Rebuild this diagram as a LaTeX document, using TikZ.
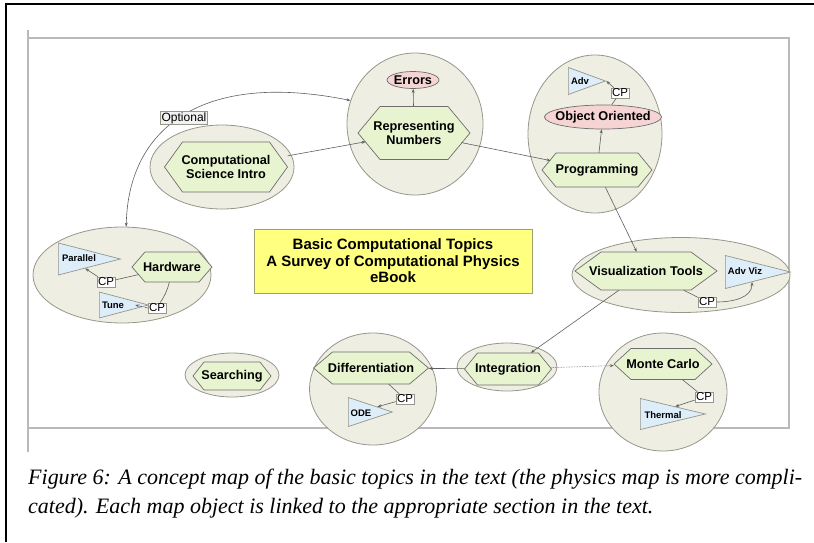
\documentclass[tikz,border=0pt]{standalone}
\usepackage{fontspec}
\setsansfont{Liberation Sans}
\newfontfamily\capfont{Liberation Serif}
\usetikzlibrary{shapes.geometric,arrows.meta,calc}
\definecolor{grpfill}{RGB}{238,238,226}
\definecolor{grpdraw}{RGB}{150,150,138}
\definecolor{hexfill}{RGB}{232,244,208}
\definecolor{hexdraw}{RGB}{110,110,110}
\definecolor{pinkfill}{RGB}{246,212,212}
\definecolor{trifill}{RGB}{221,237,250}
\definecolor{titlefill}{RGB}{255,255,128}
\definecolor{titledraw}{RGB}{160,160,110}
\definecolor{framegray}{RGB}{185,185,185}
\definecolor{linkcol}{RGB}{95,95,95}
\definecolor{optfill}{RGB}{242,242,242}
\tikzset{
  grp/.style={ellipse, draw=grpdraw, fill=grpfill, line width=0.8pt, inner sep=0pt},
  hexbody/.style={draw=hexdraw, fill=hexfill, line width=0.7pt, line join=miter},
  hexlab/.style={rectangle, inner sep=0pt, align=center, font=\sffamily\bfseries\fontsize{12.7}{14}\selectfont},
  pinkel/.style={ellipse, draw=hexdraw, fill=pinkfill, line width=0.7pt, inner sep=0pt},
  lab/.style={font=\sffamily\bfseries\fontsize{12.7}{14}\selectfont, inner sep=0pt},
  tri/.style={isosceles triangle, isosceles triangle stretches, draw=grpdraw, fill=trifill, line width=0.7pt, inner sep=0pt, anchor=lower side},
  trilab/.style={font=\sffamily\bfseries\fontsize{9.5}{10}\selectfont, inner sep=0pt},
  cpbox/.style={rectangle, draw=grpdraw, fill=white, line width=0.6pt, inner sep=1pt, font=\sffamily\fontsize{11.5}{12}\selectfont},
  optbox/.style={rectangle, draw=grpdraw, fill=optfill, line width=0.5pt, inner sep=1pt, font=\sffamily\fontsize{12}{12}\selectfont},
  conn/.style={draw=linkcol, line width=0.6pt, -{Stealth[length=4pt,width=3pt]}},
  plain/.style={draw=linkcol, line width=0.6pt},
}
% #1 name, #2 x, #3 y, #4 width, #5 height, #6 inset, #7 text
\newcommand\hexnode[7]{%
  \draw[hexbody] ({#2-#4/2},#3) -- ({#2-#4/2+#6},{#3-#5/2}) -- ({#2+#4/2-#6},{#3-#5/2})
    -- ({#2+#4/2},#3) -- ({#2+#4/2-#6},{#3+#5/2}) -- ({#2-#4/2+#6},{#3+#5/2}) -- cycle;
  \node[hexlab, minimum width=#4pt, minimum height=#5pt] (#1) at (#2,#3) {#7};
}
\newsavebox\capboxA
\newsavebox\capboxB
\begin{document}
\sbox\capboxA{\capfont\itshape\fontsize{20}{24}\selectfont Figure 6: A concept map of the basic topics in the text (the physics map is more compli-}%
\sbox\capboxB{\capfont\itshape\fontsize{20}{24}\selectfont cated). Each map object is linked to the appropriate section in the text.}%
\pgfmathsetmacro\capscale{774/\the\wd\capboxA}%
\begin{tikzpicture}[x=1pt,y=-1pt]
\useasboundingbox (0,0) rectangle (814,542);
% frames
\draw[line width=1.8pt] (6,542) -- (6,4) -- (814,4);
\draw[framegray, line width=1.5pt] (28,30) -- (28,452);
\draw[framegray, line width=1.5pt] (28,38) -- (789,38) -- (789,428) -- (28,428);

% group ellipses
\node[grp, minimum width=136pt, minimum height=142pt] (rnG) at (415,124) {};
\node[grp, minimum width=144pt, minimum height=84pt] (csiG) at (222,167) {};
\node[grp, minimum width=134pt, minimum height=158pt] (prG) at (595,134) {};
\node[grp, minimum width=178pt, minimum height=96pt] (hwG) at (122,275) {};
\node[grp, minimum width=218pt, minimum height=75pt] (visG) at (681,275) {};
\node[grp, minimum width=94pt, minimum height=44pt] (srG) at (232,375) {};
\node[grp, minimum width=127pt, minimum height=112pt] (dfG) at (373,389) {};
\node[grp, minimum width=100pt, minimum height=48pt] (inG) at (507,367) {};
\node[grp, minimum width=128pt, minimum height=118pt] (mcG) at (663,392) {};

% title
\node[draw=titledraw, fill=titlefill, line width=0.7pt, minimum width=278pt, minimum height=64pt, align=center,
  font=\sffamily\bfseries\fontsize{15}{16.5}\selectfont] (title) at (393,261)
  {Basic Computational Topics\\A Survey of Computational Physics\\eBook};

% hexagons
\hexnode{rn}{414}{133}{112}{53}{22}{Representing\\Numbers}
\hexnode{csi}{226}{167}{123}{50}{18}{Computational\\Science Intro}
\hexnode{pr}{597}{170}{110}{34}{14}{Programming}
\hexnode{hw}{172}{267}{80}{30}{13}{Hardware}
\hexnode{vis}{646}{271}{142}{38}{26}{Visualization Tools}
\hexnode{sr}{232}{376}{78}{28}{11}{Searching}
\hexnode{df}{371}{368}{115}{32}{19}{Differentiation}
\hexnode{in}{508}{369}{87}{32}{13}{Integration}
\hexnode{mc}{663}{364}{98}{31}{17}{Monte Carlo}

% pink ellipses
\node[pinkel, minimum width=52pt, minimum height=17pt, label={[lab]center:Errors}] (err) at (413,80) {};
\node[pinkel, minimum width=117pt, minimum height=24pt, label={[lab]center:Object Oriented}] (oo) at (603,117) {};

% triangles (minimum width = base, minimum height = length)
\node[tri, minimum width=27pt, minimum height=37pt] (advT) at (568,81) {};
\node[tri, minimum width=32pt, minimum height=62pt] (parT) at (58,259) {};
\node[tri, minimum width=26pt, minimum height=49pt] (tuneT) at (99,305) {};
\node[tri, minimum width=33pt, minimum height=65pt] (avzT) at (725,272) {};
\node[tri, minimum width=29pt, minimum height=44pt] (odeT) at (348,412) {};
\node[tri, minimum width=31pt, minimum height=65pt] (thT) at (640,414) {};
\node[trilab] (advL) at (580,81) {Adv};
\node[trilab] (parL) at (79,258) {Parallel};
\node[trilab] (tuneL) at (113,305) {Tune};
\node[trilab] (avzL) at (745,271) {Adv Viz};
\node[trilab] (odeL) at (361,413) {ODE};
\node[trilab] (thL) at (663,415) {Thermal};

% CP boxes
\node[cpbox] (cpA) at (620,93) {CP};
\node[cpbox] (cpP) at (106,282) {CP};
\node[cpbox] (cpT) at (157,308) {CP};
\node[cpbox] (cpV) at (707,302) {CP};
\node[cpbox] (cpD) at (405,399) {CP};
\node[cpbox] (cpM) at (704,397) {CP};

% connectors
\draw[conn, shorten >=-8pt] (csi) -- (rn);
\draw[conn] (rn) -- (err);
\draw[conn, shorten <=-9pt, shorten >=-9pt] (rn) -- (pr);
\draw[conn] (pr) -- (oo);
\draw[plain] (oo) -- (cpA);
\draw[conn] (cpA) -- (advT.apex);
\draw[conn] (pr) -- (vis);
\draw[conn] (vis) -- (in);
\draw[conn] (in) -- (df);
\draw[conn, densely dotted] (in) -- (mc);
\draw[plain] (vis) -- (cpV);
\draw[conn] (cpV.east) to[out=0,in=-90] ($(avzT.lower side)+(27,10)$);
\draw[plain, shorten <=-7pt] (hw) -- (cpP);
\draw[conn] (cpP) -- (parT);
\draw[plain] (hw) to[bend left=10] (cpT);
\draw[conn, dashed] (cpT.west) -- ($(tuneT.apex)+(-14,0)$);
\draw[plain] (df) -- (cpD);
\draw[conn] (cpD) -- (odeT);
\draw[plain] (mc) -- (cpM);
\draw[conn] (cpM) -- (thT);

% optional curve
\draw[plain, {Stealth[length=4pt,width=3pt]}-{Stealth[length=4pt,width=3pt]}] (hwG.85) .. controls (128,130) and (200,70) .. (rnG.160);
\node[optbox] (opt) at (184,118) {Optional};

% caption (both lines at one scale)
\node[anchor=base west, inner sep=0pt] (cap1) at (28,484) {\scalebox{\capscale}{\usebox\capboxA}};
\node[anchor=base west, inner sep=0pt] (cap2) at (28,513) {\scalebox{\capscale}{\usebox\capboxB}};
\end{tikzpicture}
\end{document}
